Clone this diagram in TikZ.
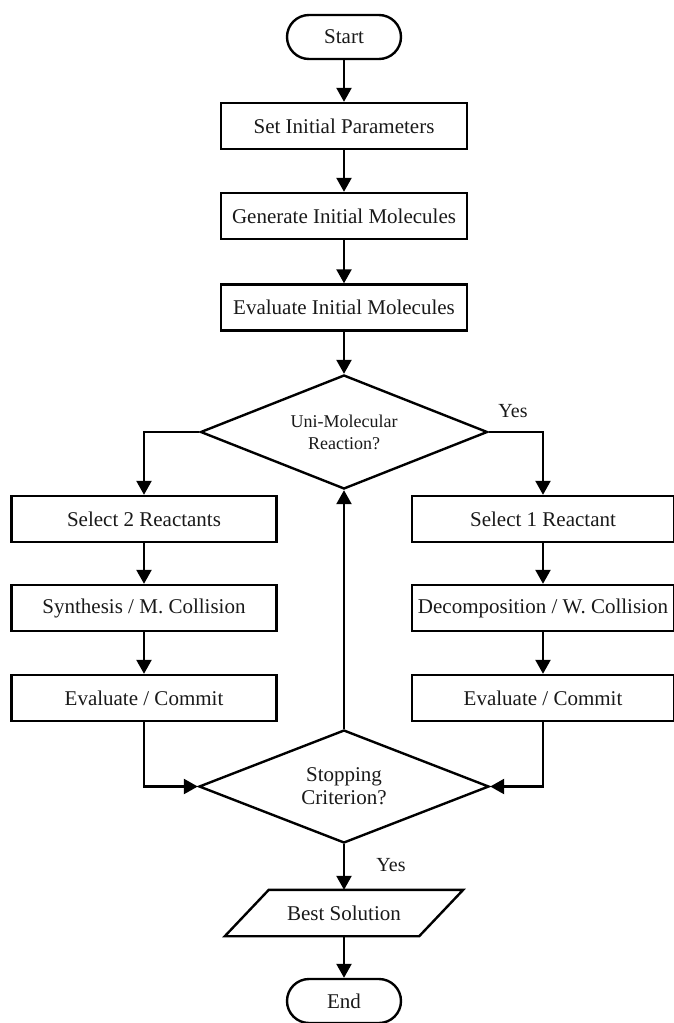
\documentclass[tikz,border=0pt]{standalone}
\usepackage{fontspec}
\setmainfont{Liberation Serif}
\usetikzlibrary{shapes.geometric,arrows.meta}
\begin{document}
\begin{tikzpicture}[x=1pt,y=-1pt,
  line width=2.4pt,
  every node/.style={font=\fontsize{21}{23}\selectfont, text=black!90},
  procbox/.style={draw, rectangle, minimum height=46pt, inner sep=0pt},
  midbox/.style={procbox, minimum width=246pt},
  sidebox/.style={procbox, minimum width=264pt},
  termbox/.style={draw, rectangle, rounded corners=22pt, minimum width=114pt, minimum height=44pt, inner sep=0pt},
  decbox/.style={draw, diamond, aspect=2.5, inner sep=0pt, minimum width=287pt, minimum height=114pt, align=center},
  arr/.style={-{Triangle[length=14pt,width=15pt]}},
  lbl/.style={font=\fontsize{20}{22}\selectfont}
]
\useasboundingbox (0,0) rectangle (673,1023);
\node[termbox] (start) at (344,37) {Start};
\node[midbox] (b1) at (344,126) {Set Initial Parameters};
\node[midbox] (b2) at (344,216) {Generate Initial Molecules};
\node[midbox] (b3) at (344,307.5) {Evaluate Initial Molecules};
\node[decbox, font=\fontsize{18}{22}\selectfont] (d1) at (344,432) {Uni-Molecular\\Reaction?};
\node[sidebox, minimum width=265pt] (l1) at (144,519) {Select 2 Reactants};
\node[sidebox, minimum width=265pt] (l2) at (144,608) {Synthesis / M. Collision};
\node[sidebox, minimum width=265pt] (l3) at (144,698) {Evaluate / Commit};
\node[sidebox, minimum width=262pt] (r1) at (543,519) {Select 1 Reactant};
\node[sidebox, minimum width=262pt] (r2) at (543,608) {Decomposition / W. Collision};
\node[sidebox, minimum width=262pt] (r3) at (543,698) {Evaluate / Commit};
\node[decbox, minimum width=290pt, minimum height=113pt] (d2) at (344,786.5) {Stopping\\Criterion?};
\node[inner sep=0pt, minimum width=192pt, minimum height=44pt] (best) at (344,913) {Best Solution};
\draw ([xshift=22pt]best.north west) -- ([xshift=22pt]best.north east)
   -- ([xshift=-22pt]best.south east) -- ([xshift=-22pt]best.south west) -- cycle;
\node[termbox] (end) at (344,1001) {End};
\node[lbl] (yes1) at (513,411) {Yes};
\node[lbl] (yes2) at (391,865) {Yes};

\draw[arr] (start) -- (b1);
\draw[arr] (b1) -- (b2);
\draw[arr] (b2) -- (b3);
\draw[arr] (b3) -- (d1.north);
\draw[arr] (d1.west) -| (l1.north);
\draw[arr] (d1.east) -| (r1.north);
\draw[arr] (l1) -- (l2);
\draw[arr] (l2) -- (l3);
\draw[arr] (r1) -- (r2);
\draw[arr] (r2) -- (r3);
\draw[arr] (l3.south) |- (d2.west);
\draw[arr] (r3.south) |- (d2.east);
\draw[arr] (d2.north) -- (d1.south);
\draw[arr] (d2.south) -- (best.north);
\draw[arr] (best.south) -- (end.north);
\end{tikzpicture}
\end{document}
